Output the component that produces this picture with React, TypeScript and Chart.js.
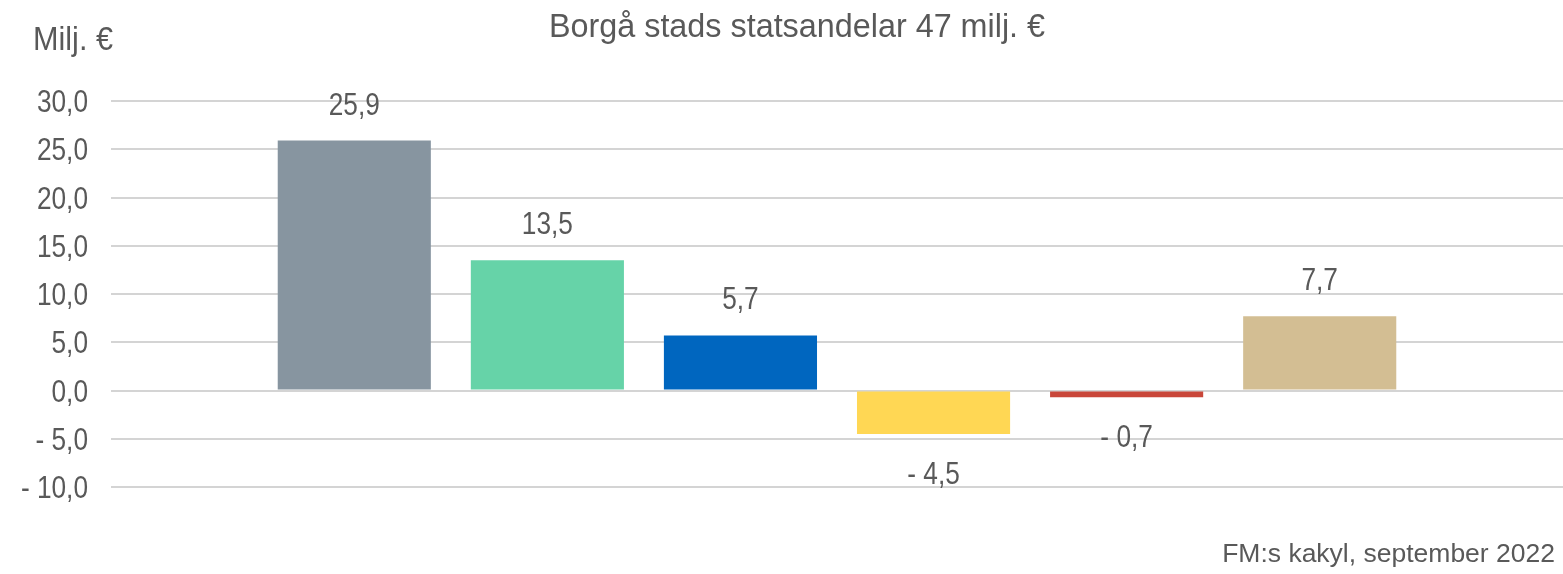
import React, { useEffect, useRef } from "react";
import { Chart, registerables } from "chart.js";

Chart.register(...registerables);

const positions = [0, 1, 2, 3, 4, 5];
const values = [25.9, 13.5, 5.7, -4.5, -0.7, 7.7];
const colors = ["#8795A0", "#66D3A8", "#0066BF", "#FFD754", "#C9473A", "#D3BE93"];
const yTicks = [30, 25, 20, 15, 10, 5, 0, -5, -10];
const titleText = "Borgå stads statsandelar 47 milj. €";
const unitText = "Milj. €";
const sourceText = "FM:s kakyl, september 2022";

const FONT = "'Liberation Sans', Arial, sans-serif";
const TEXT = "#595959";

function fmt(v: number): string {
  const s = Math.abs(v).toFixed(1).replace(".", ",");
  return v < 0 ? "- " + s : s;
}

function drawText(
  ctx: CanvasRenderingContext2D,
  text: string,
  x: number,
  y: number,
  size: number,
  align: CanvasTextAlign,
  sx: number
) {
  ctx.save();
  ctx.translate(x, y);
  ctx.scale(sx, 1);
  ctx.font = `${size}px ${FONT}`;
  ctx.textAlign = align;
  ctx.textBaseline = "alphabetic";
  ctx.fillStyle = TEXT;
  ctx.fillText(text, 0, 0);
  ctx.restore();
}

const textPlugin = {
  id: "texts",
  afterDatasetsDraw(chart: any) {
    const ctx = chart.ctx;
    const yScale = chart.scales.y;
    // y tick labels
    yTicks.forEach((v) => {
      drawText(ctx, fmt(v), 88, yScale.getPixelForValue(v) + 11, 32, "right", 0.82);
    });
    // data labels
    const meta = chart.getDatasetMeta(0);
    meta.data.forEach((bar: any, i: number) => {
      const v = values[i];
      const y = v >= 0 ? bar.y - 26 : bar.y + 50;
      drawText(ctx, fmt(v), bar.x, y, 32, "center", 0.82);
    });
    drawText(ctx, titleText, 797, 37, 33, "center", 0.98);
    drawText(ctx, unitText, 33, 50, 34, "left", 0.9);
    drawText(ctx, sourceText, 1555, 562, 26.5, "right", 1);
  },
};

export default function App() {
  const ref = useRef<HTMLCanvasElement>(null);
  useEffect(() => {
    document.body.style.margin = "0";
    const chart = new Chart(ref.current!, {
      type: "bar",
      data: {
        datasets: [
          {
            data: positions.map((p, i) => ({ x: p, y: values[i] })),
            backgroundColor: colors,
            categoryPercentage: 1,
            barPercentage: 0.793,
          },
        ],
      },
      options: {
        animation: false,
        responsive: false,
        layout: { padding: { top: 101, bottom: 87, left: 0, right: 0 } },
        plugins: { legend: { display: false }, tooltip: { enabled: false } },
        scales: {
          x: {
            type: "linear",
            min: -1.26,
            max: 6.26,
            offset: false,
            display: false,
            afterBuildTicks: (s: any) => {
              s.ticks = positions.map((v) => ({ value: v }));
            },
          },
          y: {
            min: -10,
            max: 30,
            afterFit: (s: any) => {
              s.width = 111;
            },
            afterBuildTicks: (s: any) => {
              s.ticks = yTicks.map((v) => ({ value: v }));
            },
            border: { display: false },
            grid: { color: "#D4D4D4", lineWidth: 2, drawTicks: false },
            ticks: { display: false },
          },
        },
      },
      plugins: [textPlugin],
    });
    return () => chart.destroy();
  }, []);
  return <canvas ref={ref} width={1563} height={574} style={{ display: "block" }} />;
}
